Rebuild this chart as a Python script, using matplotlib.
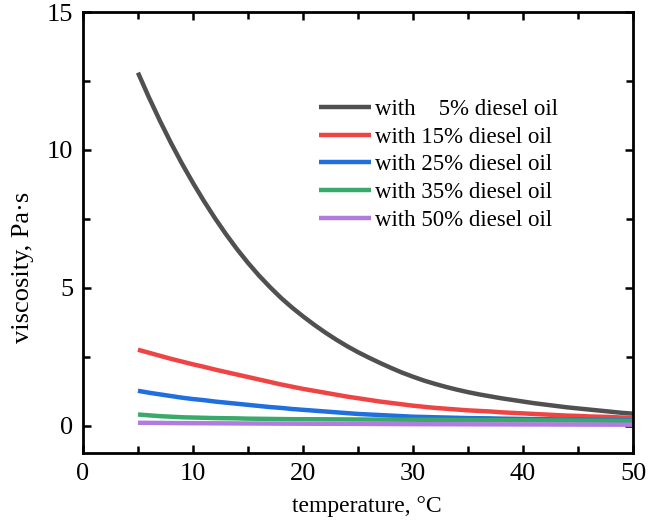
import matplotlib
matplotlib.use("Agg")
import matplotlib.pyplot as plt
from matplotlib.ticker import MultipleLocator

plt.rcParams['font.family'] = ['Liberation Serif', 'DejaVu Serif']

temperature = list(range(5, 51))
visc_5 = [12.8, 11.9, 11.05, 10.25, 9.5, 8.8, 8.14, 7.52, 6.94, 6.4,
          5.9, 5.44, 5.02, 4.63, 4.28, 3.96, 3.66, 3.38, 3.12, 2.88,
          2.66, 2.46, 2.27, 2.09, 1.92, 1.77, 1.63, 1.51, 1.40, 1.30,
          1.21, 1.13, 1.06, 0.99, 0.93, 0.87, 0.81, 0.76, 0.71, 0.66,
          0.62, 0.58, 0.54, 0.50, 0.46, 0.43]
visc_15 = [2.75, 2.64, 2.53, 2.42, 2.32, 2.22, 2.13, 2.03, 1.94, 1.85,
           1.76, 1.67, 1.58, 1.49, 1.41, 1.33, 1.26, 1.19, 1.12, 1.05,
           0.99, 0.93, 0.87, 0.82, 0.77, 0.72, 0.68, 0.64, 0.61, 0.58,
           0.55, 0.53, 0.51, 0.48, 0.46, 0.44, 0.42, 0.40, 0.38, 0.36,
           0.35, 0.33, 0.32, 0.31, 0.29, 0.28]
visc_25 = [1.26, 1.19, 1.13, 1.07, 1.01, 0.96, 0.92, 0.87, 0.83, 0.79,
           0.75, 0.71, 0.67, 0.64, 0.60, 0.57, 0.54, 0.51, 0.48, 0.45,
           0.42, 0.40, 0.38, 0.36, 0.34, 0.32, 0.31, 0.30, 0.29, 0.28,
           0.27, 0.265, 0.26, 0.25, 0.245, 0.24, 0.235, 0.23, 0.225, 0.22,
           0.215, 0.21, 0.205, 0.20, 0.195, 0.19]
visc_35 = [0.40, 0.37, 0.34, 0.32, 0.30, 0.29, 0.28, 0.27, 0.265, 0.26,
           0.25, 0.245, 0.24, 0.235, 0.23, 0.23, 0.228, 0.226, 0.224, 0.222,
           0.22, 0.218, 0.216, 0.214, 0.212, 0.21, 0.208, 0.206, 0.204, 0.202,
           0.20, 0.198, 0.196, 0.194, 0.192, 0.19, 0.188, 0.186, 0.184, 0.182,
           0.18, 0.178, 0.176, 0.174, 0.172, 0.17]
visc_50 = [0.10, 0.097, 0.094, 0.091, 0.088, 0.085, 0.083, 0.081, 0.079, 0.077,
           0.075, 0.073, 0.071, 0.069, 0.067, 0.065, 0.064, 0.063, 0.062, 0.061,
           0.06, 0.058, 0.056, 0.054, 0.052, 0.05, 0.049, 0.048, 0.047, 0.046,
           0.045, 0.044, 0.043, 0.042, 0.041, 0.04, 0.039, 0.038, 0.037, 0.036,
           0.035, 0.034, 0.033, 0.032, 0.031, 0.03]

labels = ['with \u2002 5% diesel oil', 'with 15% diesel oil', 'with 25% diesel oil',
          'with 35% diesel oil', 'with 50% diesel oil']
colors = ['#505050', '#ef4444', '#1f6fdf', '#3aaa6a', '#b07ce0']
series = [visc_5, visc_15, visc_25, visc_35, visc_50]

fig = plt.figure(figsize=(6.48, 5.22), dpi=100)
ax = fig.add_axes([0.128, 0.132, 0.849, 0.845])

for y, c, lab in zip(series, colors, labels):
    ax.plot(temperature, y, color=c, lw=3.2, label=lab, solid_capstyle='butt')

ax.set_xlim(0, 50)
ax.set_ylim(-1, 15)
ax.xaxis.set_major_locator(MultipleLocator(10))
ax.xaxis.set_minor_locator(MultipleLocator(5))
ax.yaxis.set_major_locator(MultipleLocator(5))
ax.yaxis.set_minor_locator(MultipleLocator(2.5))
ax.tick_params(which='both', direction='in', top=True, right=True, width=1.8, labelsize=19, pad=7)
ax.tick_params(which='major', length=6)
ax.tick_params(which='minor', length=5)
for s in ax.spines.values():
    s.set_linewidth(2)

ax.set_xlabel('temperature, \u00b0C', fontsize=17, labelpad=8)
ax.set_ylabel('viscosity, Pa\u00b7s', fontsize=19, labelpad=9)
ax.xaxis.label.set_x(0.516)
ax.yaxis.label.set_y(0.42)

ax.legend(loc='upper left', bbox_to_anchor=(0.429, 0.803), frameon=False, fontsize=16.5,
          handlelength=2.27, handletextpad=0.17, labelspacing=0.29, borderpad=0, borderaxespad=0)

fig.savefig('out.png', dpi=100)
